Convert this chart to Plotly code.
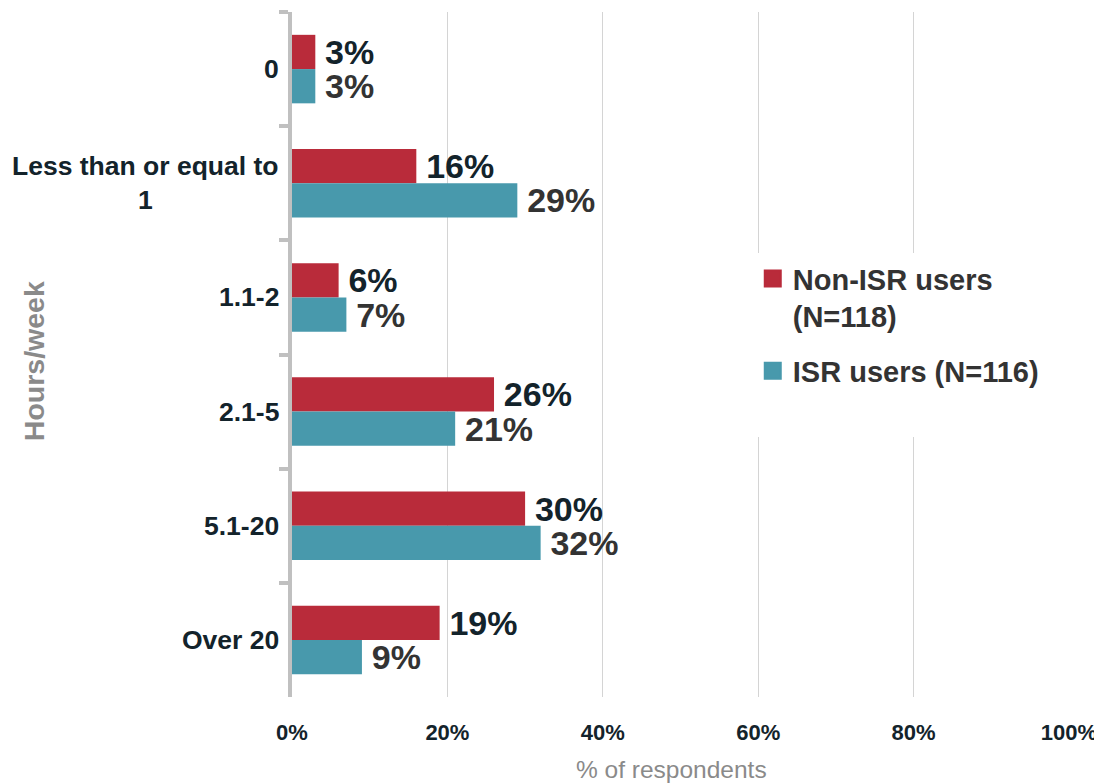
import plotly.graph_objects as go

categories = ["0", "Less than or equal to<br>1", "1.1-2", "2.1-5", "5.1-20", "Over 20"]
non_isr = [3, 16, 6, 26, 30, 19]
isr = [3, 29, 7, 21, 32, 9]
series_names = ["Non-ISR users<br>(N=118)", "ISR users (N=116)"]
x_ticks = [0, 20, 40, 60, 80, 100]
x_ticktext = [f"{v}%" for v in x_ticks]

RED = "#B92B3A"
TEAL = "#4899AC"
FONT = "Liberation Sans, Arial, sans-serif"

fig = go.Figure()
for vals, color, tcolor in [(non_isr, RED, "#13232B"), (isr, TEAL, "#333333")]:
    fig.add_trace(go.Bar(
        y=categories, x=vals, orientation="h",
        marker=dict(color=color, line=dict(width=0)),
        text=[f"\u2009{v}%" for v in vals], textposition="outside",
        textfont=dict(family=FONT, size=34, color=tcolor, weight="bold"),
        constraintext="none", cliponaxis=False, showlegend=False,
        hoverinfo="skip",
    ))

for name, color, grp in [(series_names[0], RED, "a"), (series_names[1], TEAL, "b")]:
    fig.add_trace(go.Scatter(
        x=[None], y=[None], mode="markers", name=name, legendgroup=grp,
        marker=dict(symbol="square", size=16, color=color, line=dict(color=color, width=2)),
    ))

# white panel behind legend (hides gridlines there)
fig.add_shape(type="rect", xref="paper", yref="paper",
              x0=0.538, x1=1.03, y0=0.3796, y1=0.648,
              fillcolor="white", line=dict(width=0), layer="above")

# category labels (centered multi-line)
for c in categories:
    fig.add_annotation(x=0, xref="paper", y=c, yref="y", xshift=-11,
                       xanchor="right", yanchor="middle", align="center",
                       text=c, showarrow=False,
                       font=dict(family=FONT, size=26.5, color="#13232B", weight="bold"))

fig.add_annotation(x=-0.331, xref="paper", y=0.49, yref="paper", text="Hours/week",
                   textangle=-90, showarrow=False, xanchor="center", yanchor="middle",
                   font=dict(family=FONT, size=28.5, color="#8A8A8A", weight="bold"))
fig.add_annotation(x=0.488, xref="paper", y=-0.106, yref="paper", text="% of respondents",
                   showarrow=False, xanchor="center", yanchor="middle",
                   font=dict(family=FONT, size=24.5, color="#8A8A8A"))

fig.update_layout(
    width=1094, height=776,
    margin=dict(l=284, r=33, t=4, b=87),
    paper_bgcolor="white", plot_bgcolor="white",
    barmode="group", bargap=0.4, bargroupgap=0,
    showlegend=True,
    legend=dict(x=0.593, xanchor="left", y=0.648, yanchor="top",
                bgcolor="rgba(0,0,0,0)", valign="top", traceorder="grouped",
                tracegroupgap=14, itemclick=False,
                font=dict(family=FONT, size=29, color="#333333", weight="bold")),
    xaxis=dict(range=[0, 100], tickmode="array", tickvals=x_ticks, ticktext=x_ticktext,
               showgrid=True, gridcolor="#D4D4D4", gridwidth=1,
               zeroline=False, showline=False, ticks="",
               ticklabelstandoff=20,
               tickfont=dict(family=FONT, size=22, color="#13232B", weight="bold")),
    yaxis=dict(categoryorder="array", categoryarray=categories, autorange="reversed",
               showticklabels=False, showgrid=False, zeroline=False,
               showline=True, linecolor="#C0C0C0", linewidth=4,
               ticks="outside", tickson="boundaries", ticklen=9, tickwidth=4,
               tickcolor="#C0C0C0"),
)

fig.write_html("out.html")
